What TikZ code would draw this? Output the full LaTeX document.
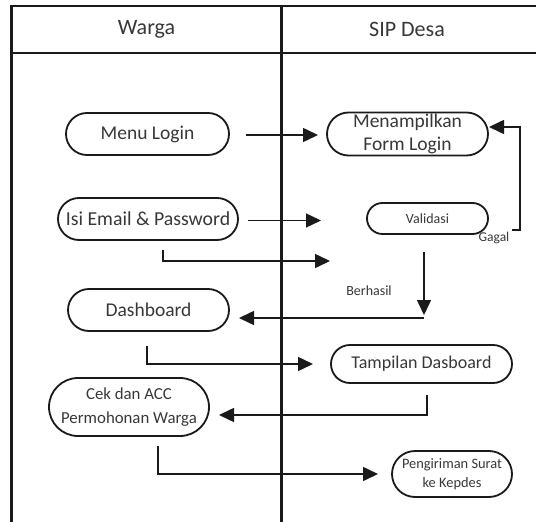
\documentclass[tikz,border=0pt]{standalone}
\usepackage{fontspec}
\setmainfont{Carlito}
\usetikzlibrary{arrows.meta,shapes.misc}
\definecolor{ink}{HTML}{1A1A1A}
\definecolor{txt}{HTML}{383838}
\tikzset{
  lane/.style={draw=ink, line width=2.6pt},
  act/.style={rounded rectangle, draw=ink, line width=1.8pt, inner sep=1pt,
              align=center, text=txt, font=\fontsize{19.5}{23}\selectfont},
  flow/.style={draw=ink, line width=1.5pt,
               -{Triangle[length=15pt,width=14pt]}},
  hdr/.style={text=txt, font=\fontsize{22}{26}\selectfont},
  note/.style={text=txt, font=\fontsize{13.5}{16}\selectfont}
}
\begin{document}
\begin{tikzpicture}[x=1pt,y=-1pt]
\useasboundingbox (0,0) rectangle (536,522);
\fill[white] (0,0) rectangle (536,522);

% swimlanes
\draw[lane] (536,6) -- (11.5,6) -- (11.5,522);
\draw[lane] (11.5,53) -- (536,53);
\draw[lane] (281.5,6) -- (281.5,522);
\node[hdr] (hw) at (146.5,29) {Warga};
\node[hdr] (hs) at (407,29) {SIP Desa};

% activities
\node[act, minimum width=165pt, minimum height=42pt] (menu) at (147.5,134) {Menu Login};
\node[act, minimum width=163pt, minimum height=43pt] (form) at (407.5,134) {Menampilkan\\Form Login};
\node[act, minimum width=182pt, minimum height=42pt, font=\fontsize{19.8}{24}\selectfont] (isi) at (148,219) {Isi Email \& Password};
\node[act, minimum width=123pt, minimum height=31pt, font=\fontsize{14}{17}\selectfont] (valid) at (427.5,218.5) {Validasi};
\node[act, minimum width=163pt, minimum height=42pt] (dash) at (148.5,310) {Dashboard};
\node[act, minimum width=183pt, minimum height=38pt, font=\fontsize{18}{21}\selectfont] (tamp) at (421.5,364) {Tampilan Dasboard};
\node[act, minimum width=162pt, minimum height=58pt, font=\fontsize{16.8}{24}\selectfont] (cek) at (129,407) {Cek dan ACC\\Permohonan Warga};
\node[act, minimum width=122pt, minimum height=46pt, font=\fontsize{14.4}{19}\selectfont] (peng) at (452,474) {Pengiriman Surat\\ke Kepdes};

% connector end points
\coordinate (m0) at (246,135);
\coordinate (m1) at (318,135);
\coordinate (i0) at (248,220.5);
\coordinate (i1) at (321,220.5);
\coordinate (g0) at (512,230);
\coordinate (g1) at (520,230);
\coordinate (g2) at (489,127);
\coordinate (b0) at (163,250);
\coordinate (b1) at (330,261);
\coordinate (v0) at (424,252);
\coordinate (v1) at (424,315);
\coordinate (d0) at (424,318);
\coordinate (d1) at (239,318);
\coordinate (t0) at (147,346);
\coordinate (t1) at (313,364);
\coordinate (c0) at (427,395);
\coordinate (c1) at (219,415);
\coordinate (p0) at (158,446);
\coordinate (p1) at (378,474);

% flows
\draw[flow] (m0) -- (m1);
\draw[flow] (i0) -- (i1);
\draw[flow] (g0) -- (g1) |- (g2);
\draw[flow] (b0) |- (b1);
\draw[flow] (v0) -- (v1);
\draw[flow] (d0) -- (d1);
\draw[flow] (t0) |- (t1);
\draw[flow] (c0) |- (c1);
\draw[flow] (p0) |- (p1);

% guard labels
\node[note] (gagal) at (494,238) {Gagal};
\node[note, font=\fontsize{14}{17}\selectfont] (berhasil) at (369,291) {Berhasil};
\end{tikzpicture}
\end{document}
